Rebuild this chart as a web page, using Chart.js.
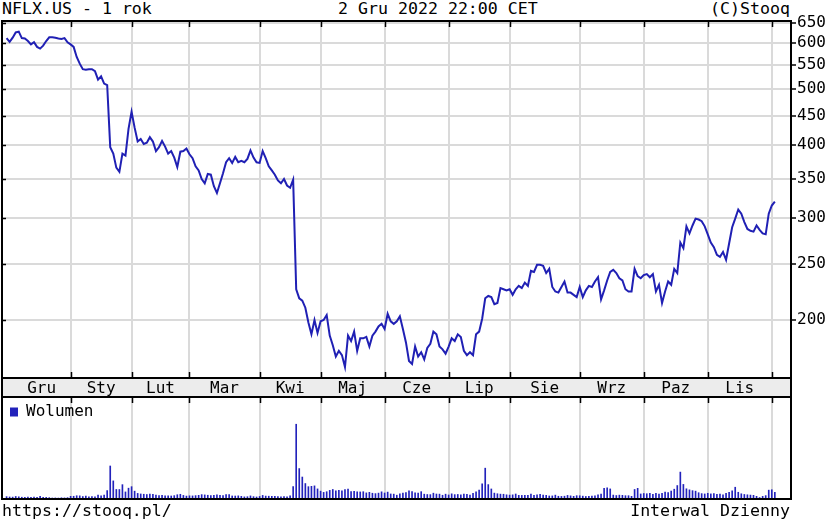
<html>

<head>
	<title>NFLX.US - 1 rok</title>
	<script src="https://cdn.jsdelivr.net/npm/chart.js@4.4.0/dist/chart.umd.min.js"></script>
	<style>
		body {
			margin: 0;
			background: #fff;
			width: 828px;
			height: 525px;
			overflow: hidden;
			position: relative;
			font-family: 'DejaVu Sans Mono', monospace;
			font-size: 16.6px;
			color: #000;
		}

		.txt {
			position: absolute;
			white-space: pre;
			line-height: 16px;
		}

		canvas {
			position: absolute;
			left: 0;
		}
	</style>
</head>

<body>
	<div class="txt" style="left:2px; top:1px">NFLX.US - 1 rok</div>
	<div class="txt" style="left:338px; top:1px">2 Gru 2022 22:00 CET</div>
	<div class="txt" style="right:38px; top:1px">(C)Stooq</div>
	<canvas id="price" width="828" height="397" style="top:0"></canvas>
	<canvas id="volume" width="828" height="106" style="top:396px"></canvas>
	<div class="txt" style="left:2px; top:503px">https://stooq.pl/</div>
	<div class="txt" style="right:38px; top:503px">Interwal Dzienny</div>
	<script>
		// closing prices, one per trading day (2 Dec 2021 - 2 Dec 2022)
		const closeDec21 = [612, 603, 613, 626, 628, 612, 611, 605, 597, 602, 591, 587, 594, 605, 614, 614, 613, 611, 610, 612, 602];
		const closeJan = [597, 591, 568, 553, 541, 540, 541, 541, 537, 519, 526, 511, 508, 397, 387, 366, 360, 387, 384, 427];
		const closeFeb = [457, 429, 406, 410, 402, 404, 413, 406, 391, 397, 407, 398, 387, 391, 381, 367, 390, 391, 395];
		const closeMar = [386, 380, 368, 362, 350, 344, 357, 356, 340, 331, 344, 358, 374, 380, 373, 382, 374, 376, 374, 379, 392, 381, 374];
		const closeApr = [373, 391, 380, 368, 362, 356, 348, 344, 350, 341, 338, 349, 226, 218, 216, 210, 198, 189, 200, 190];
		const closeMay = [199, 200, 204, 188, 181, 173, 177, 174, 166, 188, 184, 191, 177, 186, 186, 187, 180, 188, 191, 195, 197];
		const closeJun = [193, 205, 199, 197, 199, 203, 193, 183, 170, 168, 180, 173, 176, 171, 179, 182, 191, 189, 180, 178, 175];
		const closeJul = [180, 186, 184, 189, 187, 177, 174, 176, 174, 189, 191, 201, 218, 220, 219, 213, 214, 227, 226, 225];
		const closeAug = [226, 221, 226, 229, 227, 232, 229, 243, 242, 249, 249, 248, 241, 245, 228, 224, 223, 228, 233, 223, 223, 221, 219];
		const closeSep = [228, 219, 225, 229, 228, 233, 237, 217, 225, 234, 242, 244, 241, 236, 234, 226, 224, 224, 245, 238, 236];
		const closeOct = [239, 240, 237, 240, 224, 230, 214, 224, 233, 230, 245, 241, 272, 266, 290, 282, 291, 299, 298, 296, 290];
		const closeNov = [281, 272, 267, 259, 257, 262, 254, 271, 289, 299, 310, 305, 295, 287, 285, 284, 291, 286, 282, 281, 305];
		const closeDec22 = [315, 320];

		// volume in millions of shares
		const volDec21 = [4.2, 3.6, 3.4, 4.5, 3.9, 3.2, 3.1, 3.4, 3.0, 3.6, 3.2, 4.6, 3.0, 2.9, 2.4, 1.8, 1.9, 1.7, 2.2, 2.0, 2.4];
		const volJan = [4.8, 4.9, 5.8, 5.6, 4.4, 5.4, 4.0, 4.4, 3.9, 6.8, 5.7, 7.1, 15.0, 58.9, 32.3, 17.0, 16.9, 25.6, 12.6, 19.3];
		const volFeb = [22.0, 14.0, 10.0, 9.0, 8.5, 8.0, 8.6, 8.2, 7.2, 6.3, 6.6, 5.5, 5.7, 5.4, 6.0, 7.6, 8.4, 6.4, 5.2];
		const volMar = [5.7, 5.5, 6.0, 6.6, 7.8, 7.3, 6.7, 5.9, 6.5, 7.6, 6.7, 6.3, 7.7, 8.1, 5.4, 5.3, 5.6, 4.7, 3.8, 4.1, 5.5, 4.2, 3.6];
		const volApr = [4.5, 6.4, 5.2, 5.0, 4.8, 4.6, 4.2, 3.8, 4.3, 3.7, 5.5, 22.0, 133.4, 54.3, 39.2, 27.6, 22.0, 22.6, 23.4, 18.0];
		const volMay = [14.0, 11.8, 13.0, 15.4, 17.0, 14.8, 15.4, 14.5, 16.9, 17.5, 13.1, 13.8, 12.8, 12.6, 13.0, 10.9, 11.9, 10.3, 9.6, 10.5, 12.8];
		const volJun = [10.7, 12.3, 9.0, 8.7, 6.8, 9.3, 10.5, 11.6, 14.6, 13.3, 11.2, 10.6, 13.1, 8.6, 8.0, 7.8, 10.4, 8.9, 8.7, 6.7, 8.6];
		const volJul = [7.2, 9.2, 7.8, 8.1, 7.4, 8.7, 8.2, 7.1, 10.0, 13.0, 15.9, 27.0, 55.0, 25.7, 17.9, 10.5, 9.4, 8.7, 8.5, 7.5];
		const volAug = [7.0, 7.4, 8.9, 6.6, 6.4, 6.7, 6.7, 8.8, 6.4, 7.4, 8.4, 6.8, 6.5, 5.4, 5.5, 6.9, 4.9, 4.6, 5.0, 6.4, 5.6, 4.8, 5.9];
		const volSep = [5.8, 5.1, 4.5, 4.7, 5.0, 5.8, 7.5, 9.0, 19.0, 20.0, 18.0, 7.0, 6.2, 6.9, 6.5, 5.9, 5.9, 4.8, 17.0, 19.0, 9.0];
		const volOct = [9.8, 9.4, 10.3, 8.3, 10.0, 8.9, 10.2, 12.5, 11.4, 14.2, 17.5, 24.0, 48.0, 26.0, 18.2, 16.3, 14.9, 14.0, 11.2, 9.6, 9.0];
		const volNov = [10.2, 9.1, 9.6, 8.5, 8.7, 7.5, 10.2, 11.8, 14.5, 21.0, 12.0, 9.3, 8.1, 7.5, 7.0, 6.6, 4.8, 2.6, 4.7, 6.0, 15.8];
		const volDec22 = [16.5, 12.0];

		// trading-day index of the first session of each month, and where each month name sits
		const monthStarts = [21, 41, 60, 83, 103, 124, 145, 165, 188, 209, 230, 251];
		const monthNames = ['Gru', 'Sty', 'Lut', 'Mar', 'Kwi', 'Maj', 'Cze', 'Lip', 'Sie', 'Wrz', 'Paz', 'Lis'];
		const monthLabelAt = [11.5, 31, 50.5, 71.5, 93, 113.5, 134.5, 155, 176.5, 198.5, 219.5, 240.5];
		const priceTicks = [200, 250, 300, 350, 400, 450, 500, 550, 600, 650];

		const close = [].concat(closeDec21, closeJan, closeFeb, closeMar, closeApr, closeMay, closeJun, closeJul, closeAug, closeSep, closeOct, closeNov, closeDec22);
		const volume = [].concat(volDec21, volJan, volFeb, volMar, volApr, volMay, volJun, volJul, volAug, volSep, volOct, volNov, volDec22);

		const xMin = -1.5;
		const xMax = 257.3;
		const font = { family: 'DejaVu Sans Mono', size: 16 };
		const gridColor = '#dadada';
		const bandHeight = 19;

		const setTicks = (values) => (scale) => {
			scale.ticks = values.map((value) => ({ value }));
		};

		// frame, month band and the small black tick marks
		const priceFrame = {
			id: 'priceFrame',
			beforeDraw(chart) {
				const { ctx, chartArea: a } = chart;
				ctx.save();
				ctx.fillStyle = '#ececec';
				ctx.fillRect(a.left, a.bottom, a.right - a.left, bandHeight);
				ctx.restore();
			},
			afterDraw(chart) {
				const { ctx, chartArea: a, scales } = chart;
				ctx.save();
				ctx.strokeStyle = '#000';
				ctx.lineWidth = 1.5;
				ctx.beginPath();
				monthStarts.forEach((m) => {
					const x = Math.round(scales.x.getPixelForValue(m)) + 0.5;
					ctx.moveTo(x, a.top);
					ctx.lineTo(x, a.top + 6);
					ctx.moveTo(x, a.bottom - 6);
					ctx.lineTo(x, a.bottom);
				});
				priceTicks.forEach((p) => {
					const y = Math.round(scales.y.getPixelForValue(p)) + 0.5;
					ctx.moveTo(a.left, y);
					ctx.lineTo(a.left + 4, y);
				});
				ctx.stroke();
				ctx.lineWidth = 2;
				ctx.strokeRect(a.left, a.top, a.right - a.left, a.bottom - a.top);
				ctx.strokeRect(a.left, a.bottom, a.right - a.left, bandHeight);
				ctx.restore();
			},
		};

		const volumeFrame = {
			id: 'volumeFrame',
			afterDraw(chart) {
				const { ctx, chartArea: a, scales } = chart;
				ctx.save();
				ctx.strokeStyle = '#000';
				ctx.lineWidth = 1.5;
				ctx.beginPath();
				monthStarts.forEach((m) => {
					const x = Math.round(scales.x.getPixelForValue(m)) + 0.5;
					ctx.moveTo(x, a.top);
					ctx.lineTo(x, a.top + 6);
				});
				ctx.stroke();
				ctx.lineWidth = 2;
				ctx.strokeRect(a.left, a.top, a.right - a.left, a.bottom - a.top);
				ctx.restore();
			},
		};

		new Chart(document.getElementById('price'), {
			type: 'line',
			data: {
				datasets: [{
					label: 'NFLX.US',
					data: close.map((v, i) => ({ x: i, y: v })),
					borderColor: '#2020b4',
					borderWidth: 2,
					pointRadius: 0,
					tension: 0,
				}],
			},
			options: {
				responsive: false,
				animation: false,
				layout: { padding: { left: 2, top: 21, right: 0, bottom: 0 } },
				plugins: {
					legend: { display: false },
					tooltip: { enabled: false },
				},
				scales: {
					x: {
						type: 'linear',
						min: xMin,
						max: xMax,
						afterBuildTicks: setTicks(monthStarts),
						ticks: { display: false },
						grid: { color: gridColor, lineWidth: 2, drawTicks: false },
						border: { display: false },
					},
					months: {
						type: 'linear',
						position: 'bottom',
						min: xMin,
						max: xMax,
						afterBuildTicks: setTicks(monthLabelAt),
						afterFit: (scale) => { scale.height = bandHeight; },
						ticks: {
							callback: (value, index) => monthNames[index],
							font,
							color: '#000',
							padding: 1,
							maxRotation: 0,
							autoSkip: false,
						},
						grid: { display: false, drawTicks: false },
						border: { display: false },
					},
					y: {
						type: 'logarithmic',
						position: 'right',
						min: 158.9,
						max: 655,
						afterBuildTicks: setTicks(priceTicks),
						afterFit: (scale) => { scale.width = 37; },
						ticks: {
							callback: (value) => String(value),
							font,
							color: '#000',
							padding: 1,
							autoSkip: false,
						},
						grid: { color: gridColor, lineWidth: 2, tickColor: '#000', tickLength: 5, tickWidth: 1.5 },
						border: { color: '#000', width: 2 },
					},
				},
			},
			plugins: [priceFrame],
		});

		new Chart(document.getElementById('volume'), {
			type: 'bar',
			data: {
				datasets: [{
					label: 'Wolumen',
					data: volume.map((v, i) => ({ x: i, y: v })),
					backgroundColor: '#2222bb',
					borderWidth: 0,
					barThickness: 1,
				}],
			},
			options: {
				responsive: false,
				animation: false,
				layout: { padding: { left: 2, right: 37, top: 1, bottom: 3 } },
				plugins: {
					legend: {
						position: 'chartArea',
						align: 'start',
						labels: { boxWidth: 8, boxHeight: 9, padding: 8, font, color: '#000' },
					},
					tooltip: { enabled: false },
				},
				scales: {
					x: {
						type: 'linear',
						offset: false,
						min: xMin,
						max: xMax,
						afterBuildTicks: setTicks(monthStarts),
						ticks: { display: false },
						grid: { color: gridColor, lineWidth: 2, drawTicks: false, offset: false },
						border: { display: false },
					},
					y: {
						display: false,
						min: 0,
						max: 182,
					},
				},
			},
			plugins: [volumeFrame],
		});
	</script>
</body>

</html>
